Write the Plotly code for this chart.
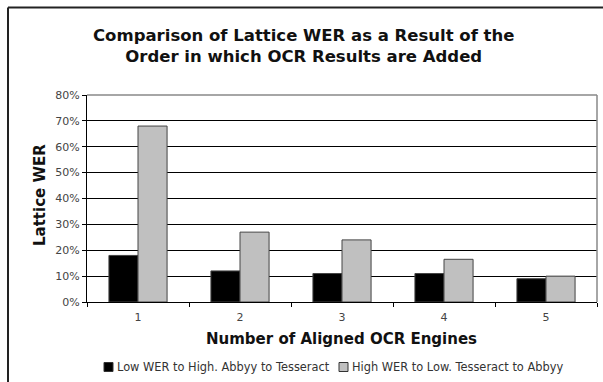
import plotly.graph_objects as go

# Number of aligned OCR engines
engines = ["1", "2", "3", "4", "5"]
# Lattice WER, adding engines from low to high WER (Abbyy first)
low_to_high = [0.18, 0.12, 0.11, 0.11, 0.09]
# Lattice WER, adding engines from high to low WER (Tesseract first)
high_to_low = [0.68, 0.27, 0.24, 0.165, 0.10]

series_names = [
    "Low WER to High. Abbyy to Tesseract",
    "High WER to Low. Tesseract to Abbyy",
]
series_colors = ["#000000", "#c0c0c0"]
y_ticks = [0, 0.1, 0.2, 0.3, 0.4, 0.5, 0.6, 0.7, 0.8]
y_tick_labels = ["0%", "10%", "20%", "30%", "40%", "50%", "60%", "70%", "80%"]

FONT = "DejaVu Sans"
ML, MR, MT, MB = 87, 6, 95, 80
W, H = 603, 382
PW, PH = W - ML - MR, H - MT - MB


def px_x(px):
    """Pixel column -> paper x."""
    return (px - ML) / PW


def px_y(py):
    """Pixel row -> paper y."""
    return (H - MB - py) / PH


fig = go.Figure()
for name, vals, col in zip(series_names, [low_to_high, high_to_low], series_colors):
    fig.add_trace(go.Bar(
        x=engines, y=vals, name=name, showlegend=False,
        marker=dict(color=col, line=dict(color="#444444", width=1)),
    ))

fig.update_layout(
    width=W, height=H,
    margin=dict(l=ML, r=MR, t=MT, b=MB),
    paper_bgcolor="white", plot_bgcolor="white",
    barmode="group", bargap=0.43, bargroupgap=0,
    font=dict(family=FONT, color="#333333"),
    xaxis=dict(
        showline=True, linecolor="#000000", linewidth=1,
        ticks="outside", tickson="boundaries", ticklen=4, tickcolor="#000000",
        tickfont=dict(size=11, color="#444444"), ticklabelstandoff=5,
        showgrid=False,
    ),
    yaxis=dict(
        range=[0, 0.8], tickvals=y_ticks, ticktext=y_tick_labels,
        showline=True, linecolor="#000000", linewidth=1,
        ticks="outside", ticklen=4, tickcolor="#000000",
        tickfont=dict(size=11, color="#444444"),
        showgrid=True, gridcolor="#000000", gridwidth=1,
        zeroline=False,
    ),
)

# Gray plot-area border on the top and right
fig.add_shape(type="line", xref="paper", yref="paper", x0=0, x1=1, y0=1, y1=1,
              line=dict(color="#888888", width=1.5))
fig.add_shape(type="line", xref="paper", yref="paper", x0=1, x1=1, y0=0, y1=1,
              line=dict(color="#888888", width=1.5))

# Outer chart frame (left and top edges)
fig.add_shape(type="line", xref="paper", yref="paper",
              x0=px_x(8), x1=1.05, y0=px_y(7.5), y1=px_y(7.5),
              line=dict(color="#222222", width=2))
fig.add_shape(type="line", xref="paper", yref="paper",
              x0=px_x(8), x1=px_x(8), y0=px_y(7.5), y1=px_y(400),
              line=dict(color="#222222", width=2))

# Titles
fig.add_annotation(
    text="<b>Comparison of Lattice WER as a Result of the<br>Order in which OCR Results are Added</b>",
    xref="paper", yref="paper", x=px_x(303), y=px_y(46),
    xanchor="center", yanchor="middle", showarrow=False,
    font=dict(size=16.5, color="#111111", family=FONT),
)
fig.add_annotation(
    text="<b>Number of Aligned OCR Engines</b>",
    xref="paper", yref="paper", x=px_x(341), y=px_y(339),
    xanchor="center", yanchor="middle", showarrow=False,
    font=dict(size=15, color="#111111", family=FONT),
)
fig.add_annotation(
    text="<b>Lattice WER</b>",
    xref="paper", yref="paper", x=px_x(40), y=px_y(195),
    xanchor="center", yanchor="middle", showarrow=False, textangle=-90,
    font=dict(size=15, color="#111111", family=FONT),
)

# Legend: small swatch followed by the series name
legend_y = 367
legend_items = [(104, 115), (339, 350)]
for (sx, tx), name, col in zip(legend_items, series_names, series_colors):
    fig.add_shape(type="rect", xref="paper", yref="paper",
                  x0=px_x(sx), x1=px_x(sx + 9),
                  y0=px_y(legend_y + 4.5), y1=px_y(legend_y - 4.5),
                  fillcolor=col, line=dict(color="#333333", width=1))
    fig.add_annotation(
        text=name, xref="paper", yref="paper", x=px_x(tx), y=px_y(legend_y),
        xanchor="left", yanchor="middle", showarrow=False,
        font=dict(size=11.4, color="#333333", family=FONT),
    )

fig.write_html("out.html")
